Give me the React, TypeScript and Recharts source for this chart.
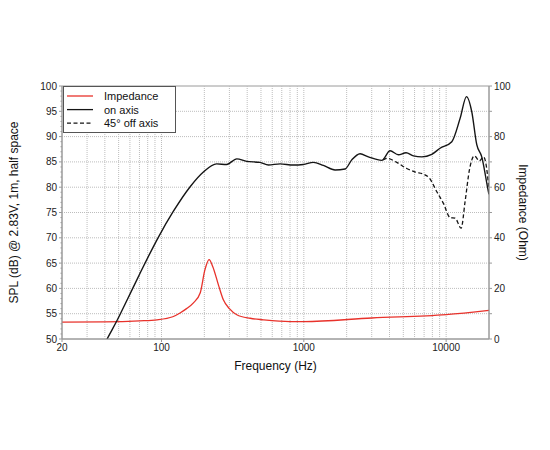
import React from 'react';
import {
  ComposedChart,
  Line,
  XAxis,
  YAxis,
  ReferenceLine,
  ReferenceArea,
} from 'recharts';

// on-axis SPL (dB)
const onAxisFreq = [36, 41.5, 48.4, 58, 70.7, 95, 121, 159, 197, 244, 287, 338, 397, 492, 564, 681, 843, 993, 1167, 1372, 1657, 1949, 2172, 2484, 2843, 3530, 4036, 4615, 5228, 5888, 6745, 7925, 9060, 10960, 12530, 13900, 15140, 16410, 17790, 19820, 20000];
const onAxisSpl = [46.3, 50, 53.5, 58, 63.0, 70.1, 75.2, 80.1, 83.0, 84.6, 84.5, 85.6, 85.1, 84.9, 84.4, 84.6, 84.4, 84.5, 84.9, 84.3, 83.4, 83.6, 85.4, 86.6, 86.0, 85.3, 87.2, 86.4, 86.8, 86.2, 86.0, 86.5, 87.7, 89.0, 93.6, 97.9, 94.9, 88.4, 86.0, 79.1, 78.6];

// 45 deg off axis SPL (dB), only where it departs from on-axis
const offAxisFreq = [3600, 3828, 4500, 5286, 6053, 6920, 7620, 8600, 9570, 10660, 11560, 12740, 13590, 14570, 15790, 17130, 18290, 19820, 20000];
const offAxisSpl = [85.4, 85.7, 84.9, 83.7, 83.0, 82.6, 81.8, 79.1, 76.8, 74.0, 73.9, 71.9, 77.2, 83.4, 86.2, 85.2, 86.0, 80.5, 79.0];

// impedance (Ohm)
const impFreq = [20, 40, 70, 93, 120, 135, 150, 167, 187, 202, 216, 229, 253, 272, 300, 338, 420, 520, 800, 1000, 3000, 10000, 20000];
const impOhm = [6.7, 6.8, 7.2, 7.6, 8.8, 10.3, 12, 14.2, 18.2, 27.4, 31.4, 28.7, 20.8, 15.5, 12, 9.6, 8.2, 7.6, 6.9, 6.9, 8.3, 9.6, 11.3];

const freqTicks = [20, 100, 1000, 10000];
const freqGrid = [30, 40, 50, 60, 70, 80, 90, 100, 200, 300, 400, 500, 600, 700, 800, 900, 1000, 2000, 3000, 4000, 5000, 6000, 7000, 8000, 9000, 10000];
const splTicks = [50, 51, 52, 53, 54, 55, 56, 57, 58, 59, 60, 61, 62, 63, 64, 65, 66, 67, 68, 69, 70, 71, 72, 73, 74, 75, 76, 77, 78, 79, 80, 81, 82, 83, 84, 85, 86, 87, 88, 89, 90, 91, 92, 93, 94, 95, 96, 97, 98, 99, 100];
const splGrid = [55, 60, 65, 70, 75, 80, 85, 90, 95];
const ohmTicks = [0, 10, 20, 30, 40, 50, 60, 70, 80, 90, 100];

const onAxisData = onAxisFreq.map((f, i) => ({ f, v: onAxisSpl[i] }));
const offAxisData = offAxisFreq.map((f, i) => ({ f, v: offAxisSpl[i] }));
const impData = impFreq.map((f, i) => ({ f, v: impOhm[i] }));

const FONT = '"Liberation Sans", Arial, Helvetica, sans-serif';
const AXIS = '#9a9a9a';
const GRID = '#bdbdbd';
const RED = '#e8322b';
const BLACK = '#151515';

const LeftTick = (props: any) => {
  const { x, y, payload } = props;
  const major = payload.value % 5 === 0;
  const ax = x + 5;
  return (
    <g>
      <line x1={ax - (major ? 3 : 1.5)} x2={ax} y1={y} y2={y} stroke={AXIS} />
      {major && (
        <text x={x} y={y} dy={3.5} textAnchor="end" fontSize={10} fill="#222" fontFamily={FONT}>
          {payload.value}
        </text>
      )}
    </g>
  );
};

const RightTick = (props: any) => {
  const { x, y, payload } = props;
  const major = payload.value % 20 === 0;
  const ax = x - 5;
  return (
    <g>
      <line x1={ax} x2={ax + 3} y1={y} y2={y} stroke={AXIS} />
      {major && (
        <text x={x} y={y} dy={3.5} textAnchor="start" fontSize={10} fill="#222" fontFamily={FONT}>
          {payload.value}
        </text>
      )}
    </g>
  );
};

const legendItems = [
  { name: 'Impedance', color: RED, dash: undefined },
  { name: 'on axis', color: BLACK, dash: undefined },
  { name: '45° off axis', color: BLACK, dash: '4 2.5' },
];

const App = () => {
  return (
    <div style={{ position: 'relative', width: 534, height: 400, fontFamily: FONT }}>
      <ComposedChart
        width={534}
        height={400}
        margin={{ top: 78, right: 0, bottom: 29, left: 0 }}
        style={{ overflow: 'visible' }}
      >
        <XAxis
          dataKey="f"
          type="number"
          scale="log"
          domain={[20, 20000]}
          allowDataOverflow
          ticks={freqTicks}
          tickSize={3}
          height={40}
          stroke={AXIS}
          tick={{ fontSize: 10, fill: '#222', fontFamily: FONT }}
          label={{ value: 'Frequency (Hz)', position: 'center', dy: 7, fontSize: 12, fill: '#111', fontFamily: FONT }}
        />
        <YAxis
          yAxisId="spl"
          type="number"
          domain={[50, 100]}
          allowDataOverflow
          ticks={splTicks}
          interval={0}
          width={54}
          stroke={AXIS}
          tickLine={false}
          tickSize={3}
          tickMargin={2}
          tick={<LeftTick />}
          label={{ value: 'SPL (dB) @ 2.83V, 1m, half space', angle: -90, position: 'center', dx: -21, fontSize: 12, fill: '#111', fontFamily: FONT }}
        />
        <YAxis
          yAxisId="ohm"
          orientation="right"
          type="number"
          domain={[0, 100]}
          allowDataOverflow
          ticks={ohmTicks}
          interval={0}
          width={53}
          stroke={AXIS}
          tickLine={false}
          tickSize={3}
          tickMargin={2}
          tick={<RightTick />}
          label={{ value: 'Impedance (Ohm)', angle: 90, position: 'center', dx: 7.5, fontSize: 12, fill: '#111', fontFamily: FONT }}
        />
        {freqGrid.map((f) => (
          <ReferenceLine key={`vx-${f}`} yAxisId="spl" x={f} stroke={GRID} strokeDasharray="1 1" />
        ))}
        {splGrid.map((v) => (
          <ReferenceLine key={`hy-${v}`} yAxisId="spl" y={v} stroke={GRID} strokeDasharray="1 1" />
        ))}
        <ReferenceArea yAxisId="spl" x1={20} x2={20000} y1={50} y2={100} stroke={AXIS} fill="none" />
        <Line
          yAxisId="ohm"
          data={impData}
          dataKey="v"
          type="monotone"
          stroke={RED}
          strokeWidth={1.3}
          dot={false}
          isAnimationActive={false}
        />
        <Line
          yAxisId="spl"
          data={offAxisData}
          dataKey="v"
          type="monotone"
          stroke={BLACK}
          strokeWidth={1.3}
          strokeDasharray="4 2.5"
          dot={false}
          isAnimationActive={false}
        />
        <Line
          yAxisId="spl"
          data={onAxisData}
          dataKey="v"
          type="monotone"
          stroke={BLACK}
          strokeWidth={1.4}
          dot={false}
          isAnimationActive={false}
        />
      </ComposedChart>
      <svg
        width={113}
        height={47}
        style={{ position: 'absolute', left: 54.5, top: 77.5, background: '#fff' }}
      >
        <rect x={0.5} y={0.5} width={112} height={46} fill="#fff" stroke="#555" />
        {legendItems.map((item, i) => (
          <g key={item.name}>
            <line
              x1={4}
              x2={30}
              y1={10 + i * 13.6}
              y2={10 + i * 13.6}
              stroke={item.color}
              strokeWidth={1.3}
              strokeDasharray={item.dash}
            />
            <text x={41} y={10 + i * 13.6} dy={4} fontSize={11} fill="#111" fontFamily={FONT}>
              {item.name}
            </text>
          </g>
        ))}
      </svg>
    </div>
  );
};

export default App;
